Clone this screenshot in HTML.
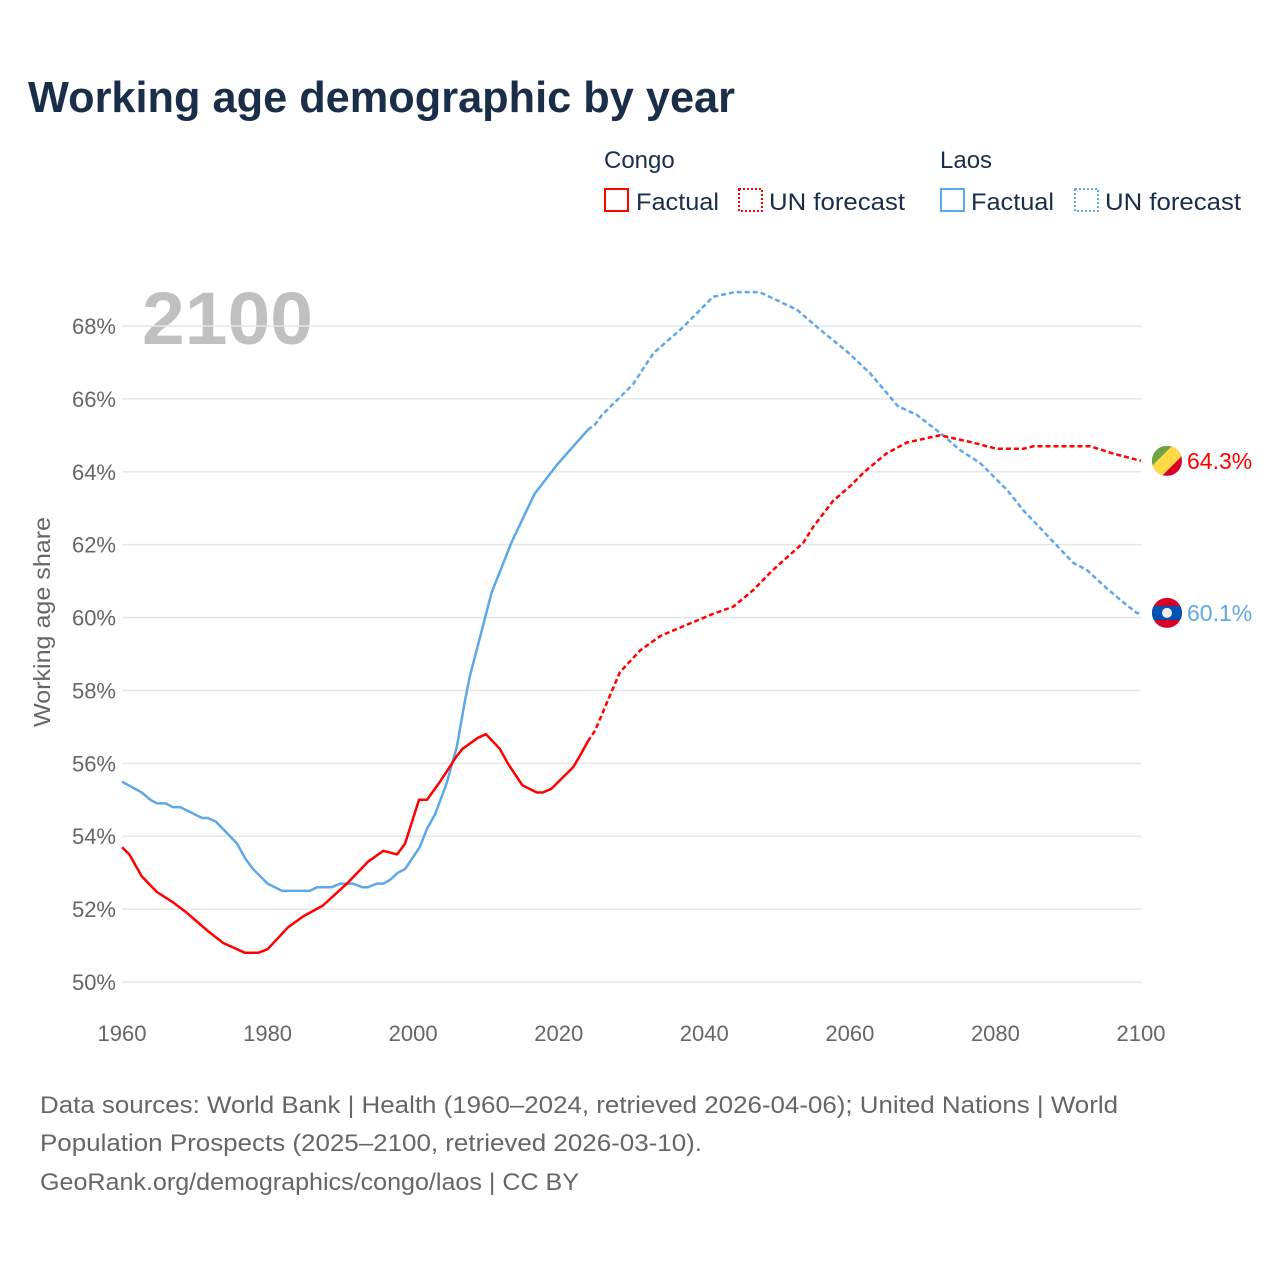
<!DOCTYPE html>
<html><head><meta charset="utf-8"><style>
body{margin:0;background:#fff;font-family:"Liberation Sans",sans-serif}
svg{display:block}
</style></head><body>
<svg id="chart" width="1280" height="1280" xmlns="http://www.w3.org/2000/svg">
<text x="28" y="112" font-size="44" font-weight="bold" fill="#1a2e4a" textLength="707" lengthAdjust="spacingAndGlyphs">Working age demographic by year</text>
<g font-size="24" fill="#1a2e4a">
<text x="604" y="168">Congo</text>
<text x="940" y="168">Laos</text>
<g><rect x="605" y="189" width="23" height="22" fill="none" stroke="#ff0000" stroke-width="2"/><text x="636" y="210" textLength="83" lengthAdjust="spacingAndGlyphs">Factual</text></g>
<g><rect x="739" y="189" width="23" height="22" fill="none" stroke="#ff0000" stroke-width="2" stroke-dasharray="2,2"/><text x="769" y="210" textLength="136" lengthAdjust="spacingAndGlyphs">UN forecast</text></g>
<g><rect x="941" y="189" width="23" height="22" fill="none" stroke="#5ea8e8" stroke-width="2"/><text x="971" y="210" textLength="83" lengthAdjust="spacingAndGlyphs">Factual</text></g>
<g><rect x="1075" y="189" width="23" height="22" fill="none" stroke="#5ea8e8" stroke-width="2" stroke-dasharray="2,2"/><text x="1105" y="210" textLength="136" lengthAdjust="spacingAndGlyphs">UN forecast</text></g>
</g>
<text x="142" y="344" font-size="74" font-weight="bold" fill="#c0c0c0" textLength="171" lengthAdjust="spacingAndGlyphs">2100</text>
<text transform="translate(50,622) rotate(-90)" text-anchor="middle" font-size="23" fill="#666" textLength="210" lengthAdjust="spacingAndGlyphs">Working age share</text>
<g id="grid"></g><g id="yticks"></g><g id="xticks"></g><g id="series"></g><g id="ends"></g>
<g font-size="24" fill="#666">
<text x="40" y="1113" textLength="1078" lengthAdjust="spacingAndGlyphs">Data sources: World Bank | Health (1960–2024, retrieved 2026-04-06); United Nations | World</text>
<text x="40" y="1151" textLength="662" lengthAdjust="spacingAndGlyphs">Population Prospects (2025–2100, retrieved 2026-03-10).</text>
<text x="40" y="1190" textLength="539" lengthAdjust="spacingAndGlyphs">GeoRank.org/demographics/congo/laos | CC BY</text>
</g>
</svg>
<script>
const yTicks=[50,52,54,56,58,60,62,64,66,68];
const xTicks=[1960,1980,2000,2020,2040,2060,2080,2100];
const congoYears=[1960,1961,1962.7,1964.8,1966.9,1968.9,1971.8,1973.9,1976.9,1978.7,1980,1982.8,1984.9,1987.6,1990.9,1993.8,1995.9,1997.8,1998.9,2000.8,2001.9,2003.7,2006,2006.8,2008.9,2010,2011.9,2013,2015,2017,2017.8,2019,2022,2022.9,2024,2025,2028.4,2031.2,2034,2037.6,2041.2,2044,2046.7,2049.4,2053.6,2055,2057.7,2060,2062,2065,2067.8,2070.7,2072.4,2076.9,2080.2,2083.8,2085.2,2093,2096.2,2100];
const congoValues=[53.7,53.5,52.9,52.47,52.2,51.9,51.4,51.07,50.8,50.8,50.9,51.5,51.8,52.1,52.7,53.3,53.6,53.5,53.8,55.0,55.0,55.5,56.2,56.4,56.7,56.8,56.4,56.0,55.4,55.2,55.2,55.3,55.9,56.2,56.6,56.9,58.5,59.1,59.5,59.8,60.1,60.3,60.75,61.3,62.05,62.5,63.2,63.6,64.0,64.5,64.8,64.93,65.0,64.8,64.63,64.63,64.7,64.7,64.5,64.3];
const laosYears=[1960,1962.7,1963.9,1964.8,1966,1967,1968,1971,1971.8,1972.9,1975.8,1976.9,1978,1980,1982,1985.8,1986.8,1988.8,1990,1991.7,1993,1993.8,1995,1995.9,1996.8,1997.9,1998.9,2000.9,2001.9,2003,2004.6,2006,2007.1,2007.8,2010.8,2013.6,2016.7,2019.8,2022,2024,2025,2025.9,2030.2,2033,2037.1,2041.2,2044.2,2047.6,2052.7,2055.9,2059.6,2062.8,2066.6,2069.2,2072.4,2075.1,2077.9,2081.6,2083.8,2090.7,2092.6,2095.3,2097.5,2099.4,2100];
const laosValues=[55.5,55.2,55.0,54.9,54.9,54.8,54.8,54.5,54.5,54.4,53.8,53.4,53.1,52.7,52.5,52.5,52.6,52.6,52.7,52.7,52.6,52.6,52.7,52.7,52.8,53.0,53.1,53.7,54.2,54.6,55.45,56.45,57.7,58.4,60.7,62.1,63.4,64.2,64.7,65.15,65.3,65.55,66.4,67.25,67.97,68.8,68.93,68.93,68.45,67.9,67.3,66.7,65.8,65.56,65.07,64.6,64.24,63.5,62.95,61.5,61.3,60.8,60.43,60.13,60.1];
const lastFactual=2024;
const X=y=>122+(y-1960)*(1141-122)/140;
const Y=v=>982-(v-50)*(982-326)/18;
const NS="http://www.w3.org/2000/svg";
function mk(tag,attrs,parent){const e=document.createElementNS(NS,tag);for(const k in attrs)e.setAttribute(k,attrs[k]);parent.appendChild(e);return e;}
const grid=document.getElementById('grid'),yt=document.getElementById('yticks'),xt=document.getElementById('xticks');
yTicks.forEach(v=>{
 const l=mk('line',{x1:122,x2:1141,y1:Y(v),y2:Y(v),stroke:'#e6e6e6','stroke-width':1.5},grid);
 
 
 const t=mk('text',{x:116,y:Y(v)+8,'text-anchor':'end','font-size':22,fill:'#666'},yt);
 t.textContent=v+'%';
 
 
});
xTicks.forEach(y=>{
 const t=mk('text',{x:X(y),y:1041,'text-anchor':'middle','font-size':22,fill:'#666'},xt);
 t.textContent=y;
 
 
});
const sg=document.getElementById('series');
function draw(years,vals,color,name){
 let f=[],p=[];
 years.forEach((y,i)=>{const pt=X(y).toFixed(1)+','+Y(vals[i]).toFixed(1);if(y<=lastFactual)f.push(pt);if(y>=lastFactual)p.push(pt);});
 const a=mk('polyline',{points:f.join(' '),fill:'none',stroke:color,'stroke-width':2.5,'stroke-linejoin':'round'},sg);
 
 
 const b=mk('polyline',{points:p.join(' '),fill:'none',stroke:color,'stroke-width':2.5,'stroke-dasharray':'5,3'},sg);
 
 
}
draw(laosYears,laosValues,'#5ea8e8','laos');
draw(congoYears,congoValues,'#ff0000','congo');
const ends=document.getElementById('ends');
const cv=congoValues[congoValues.length-1],lv=laosValues[laosValues.length-1];
const cy=Y(cv),ly=Y(lv)-1;
mk('defs',{},ends).innerHTML='<clipPath id="cc"><circle cx="1167" cy="'+cy+'" r="15"/></clipPath><clipPath id="lc"><circle cx="1167" cy="'+ly+'" r="15"/></clipPath>';
const cf=mk('g',{'clip-path':'url(#cc)'},ends);


mk('rect',{x:1152,y:cy-15,width:30,height:30,fill:'#d80027'},cf);
mk('polygon',{points:`1152,${cy-15} 1182,${cy-15} 1152,${cy+15}`,fill:'#6da544'},cf);
mk('polygon',{points:`1172,${cy-15} 1182,${cy-15} 1182,${cy-5} 1162,${cy+15} 1152,${cy+15} 1152,${cy+5}`,fill:'#ffda44'},cf);
const lf=mk('g',{'clip-path':'url(#lc)'},ends);


mk('rect',{x:1152,y:ly-15,width:30,height:30,fill:'#d80027'},lf);
mk('rect',{x:1152,y:ly-7,width:30,height:14,fill:'#0052b4'},lf);
mk('circle',{cx:1167,cy:ly,r:5,fill:'#eee'},lf);
const ct=mk('text',{x:1187,y:cy+8,'font-size':23,fill:'#ff0000'},ends);
ct.textContent=cv.toFixed(1)+'%';


const lt=mk('text',{x:1187,y:ly+8,'font-size':23,fill:'#5ea8e8'},ends);
lt.textContent=lv.toFixed(1)+'%';


</script>
</body></html>
